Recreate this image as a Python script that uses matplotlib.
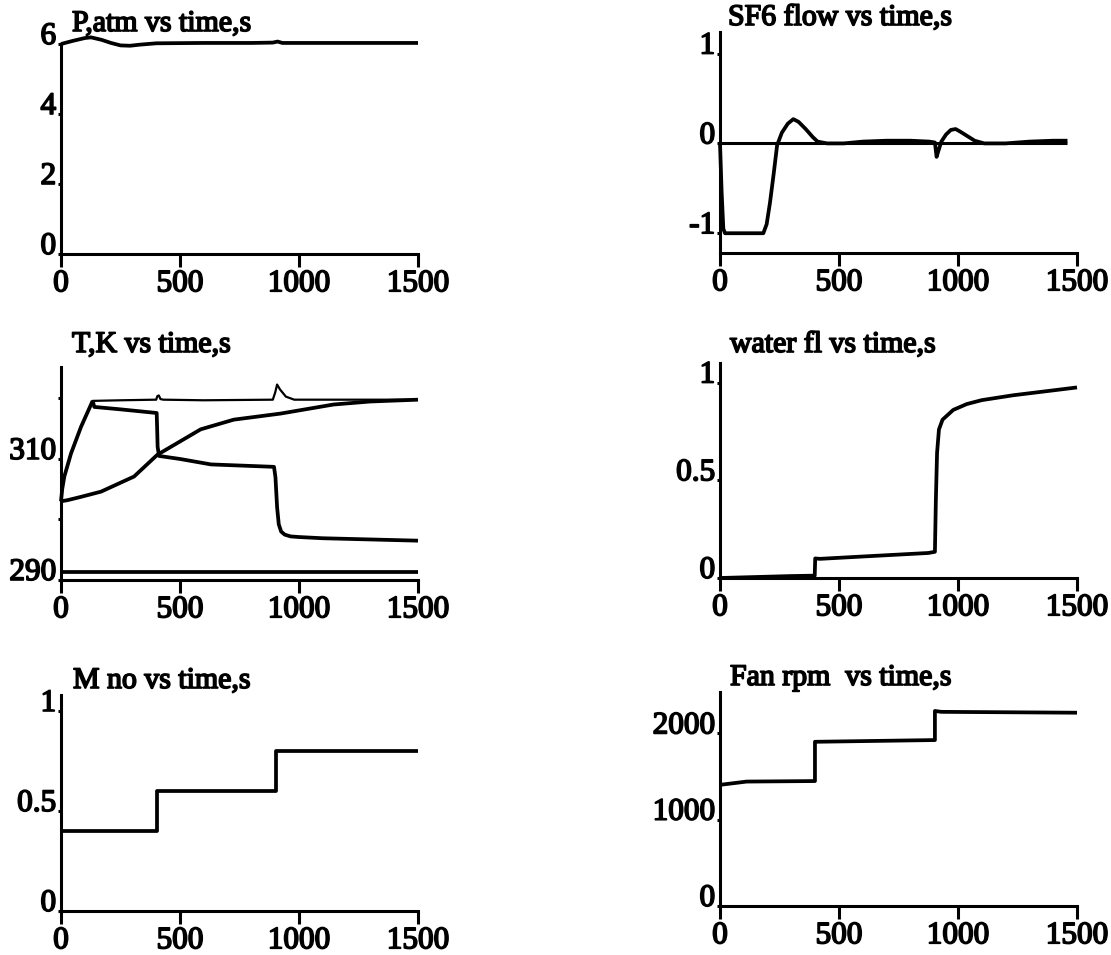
import matplotlib
matplotlib.use("Agg")
import matplotlib.pyplot as plt
import matplotlib.patheffects as pe

# ---- data ----
p_t = [0, 50, 100, 126, 170, 210, 250, 290, 330, 400, 600, 800, 890, 910, 930, 1000, 1200, 1500]
p_atm = [6.0, 6.09, 6.17, 6.19, 6.12, 6.03, 5.96, 5.95, 5.98, 6.02, 6.03, 6.03, 6.04, 6.07, 6.03, 6.03, 6.03, 6.03]

sf6_t = [0, 7, 14, 21, 182, 196, 210, 225, 240, 260, 285, 308, 330, 360, 390, 410, 450, 520,
         600, 700, 800, 880, 903, 910, 918, 930, 950, 970, 990, 1010, 1040, 1070, 1110,
         1200, 1300, 1400, 1460]
sf6_flow = [0.0, -0.55, -0.95, -1.0, -1.0, -0.9, -0.66, -0.35, -0.02, 0.12, 0.22, 0.27, 0.24, 0.16, 0.07, 0.02, 0.0, 0.0,
            0.02, 0.03, 0.03, 0.02, 0.01, -0.15, -0.08, 0.02, 0.1, 0.15, 0.16, 0.13, 0.08, 0.03, 0.0,
            0.0, 0.02, 0.03, 0.03]
sf6_ref_t = [0, 1460]
sf6_ref = [0.0, 0.0]

# temperatures, K
tgas_t = [0, 5, 14, 42, 84, 133, 250, 400, 405, 411, 418, 430, 600, 890, 900, 908, 920, 945, 980, 1200, 1500]
tgas = [303.0, 305.0, 307.1, 310.9, 315.3, 319.6, 319.7, 319.8, 320.4, 320.5, 319.9, 319.8, 319.7, 319.8, 321.0, 322.3, 321.5, 320.3, 319.8, 319.8, 319.8]

twall_t = [133, 140, 250, 402, 404, 406, 412, 500, 630, 895, 901, 908, 915, 925, 940, 965, 1000, 1100, 1300, 1500]
twall = [319.6, 318.6, 318.2, 317.6, 315.0, 312.0, 310.5, 310.0, 309.1, 308.7, 307.0, 302.0, 299.2, 298.0, 297.5, 297.2, 297.1, 296.9, 296.7, 296.5]

tslow_t = [0, 28, 80, 168, 307, 405, 587, 726, 922, 1145, 1300, 1500]
tslow = [303.0, 303.2, 303.7, 304.6, 307.1, 310.7, 314.9, 316.5, 317.5, 319.0, 319.5, 319.8]

twater_t = [0, 1500]
twater = [291.3, 291.3]

water_t = [0, 150, 300, 398, 400, 420, 600, 875, 903, 907, 912, 920, 935, 953, 980, 1037, 1100, 1232, 1400, 1500]
water_fl = [0.0, 0.005, 0.01, 0.012, 0.1, 0.098, 0.11, 0.128, 0.134, 0.4, 0.64, 0.76, 0.81, 0.83, 0.86, 0.89, 0.91, 0.935, 0.96, 0.975]

mach_t = [0, 403, 403, 903, 903, 1500]
mach_no = [0.4, 0.4, 0.6, 0.6, 0.8, 0.8]

fan_t = [0, 112, 399, 399, 903, 903, 930, 1500]
fan_rpm = [1404, 1442, 1448, 1903, 1923, 2260, 2250, 2240]

x_ticks = [0, 500, 1000, 1500]

# ---- figure ----
W, H = 1111, 955
fig = plt.figure(figsize=(W / 100, H / 100), dpi=100)
FONT = "Liberation Serif"
TICK_FS = 22.5
TITLE_FS = 21.5
LW = 2.7
# scanned print looks heavier than plain Times
HEAVY = [pe.withStroke(linewidth=1.2, foreground="black")]


def add_panel(x0, x1, ytop, ybot, ylim, yticks, ylabels, title, tx, ty):
    ax = fig.add_axes([x0 / W, 1 - ybot / H, (x1 - x0) / W, (ybot - ytop) / H])
    ax.set_xlim(0, 1500)
    ax.set_ylim(*ylim)
    for s in ["top", "right"]:
        ax.spines[s].set_visible(False)
    for s in ["left", "bottom"]:
        ax.spines[s].set_linewidth(2.2)
    ax.set_xticks(x_ticks)
    ax.set_xticklabels([str(v) for v in x_ticks], fontsize=TICK_FS, family=FONT)
    ax.set_yticks(yticks)
    ax.set_yticklabels(ylabels, fontsize=TICK_FS, family=FONT)
    for lbl in ax.get_yticklabels():
        lbl.set_va("baseline")
    for lbl in ax.get_xticklabels() + ax.get_yticklabels():
        lbl.set_path_effects(HEAVY)
    ax.tick_params(axis="x", direction="out", length=9, width=2.2, pad=2)
    ax.tick_params(axis="y", direction="out", length=2, width=2.2, pad=1.5)
    ax.patch.set_visible(False)
    fig.text(tx / W, 1 - ty / H, title, fontsize=TITLE_FS, family=FONT,
             ha="left", va="baseline", path_effects=HEAVY)
    return ax


def line(ax, x, y, lw=LW):
    ax.plot(x, y, color="black", lw=lw, clip_on=False,
            solid_capstyle="butt", solid_joinstyle="round")


ax1 = add_panel(61, 418, 44, 254, (0, 6), [0, 2, 4, 6], ["0", "2", "4", "6"],
                "P,atm vs time,s", 72, 31)
line(ax1, p_t, p_atm)

ax2 = add_panel(720, 1077, 32, 253, (-1.22, 1.24), [-1, 0, 1], ["-1", "0", "1"],
                "SF6 flow vs time,s", 728, 25)
line(ax2, sf6_ref_t, sf6_ref, lw=2.2)
line(ax2, sf6_t, sf6_flow)

ax3 = add_panel(61, 418, 367, 580, (290, 325.2), [290, 300, 310, 320], ["290", "", "310", ""],
                "T,K vs time,s", 72, 352)
line(ax3, tgas_t, tgas, lw=1.6)
line(ax3, tgas_t[:6], tgas[:6])
line(ax3, twall_t, twall)
line(ax3, tslow_t, tslow)
line(ax3, twater_t, twater)

ax4 = add_panel(720, 1077, 363, 578, (0, 1.1), [0, 0.5, 1], ["0", "0.5", "1"],
                "water fl vs time,s", 730, 352)
line(ax4, water_t, water_fl)

ax5 = add_panel(61, 418, 695, 911, (0, 1.08), [0, 0.5, 1], ["0", "0.5", "1"],
                "M no vs time,s", 73, 688)
line(ax5, mach_t, mach_no)

ax6 = add_panel(720, 1077, 692, 906, (0, 2480), [0, 1000, 2000], ["0", "1000", "2000"],
                "Fan rpm  vs time,s", 730, 685)
line(ax6, fan_t, fan_rpm)

fig.savefig("out.png", dpi=100)
